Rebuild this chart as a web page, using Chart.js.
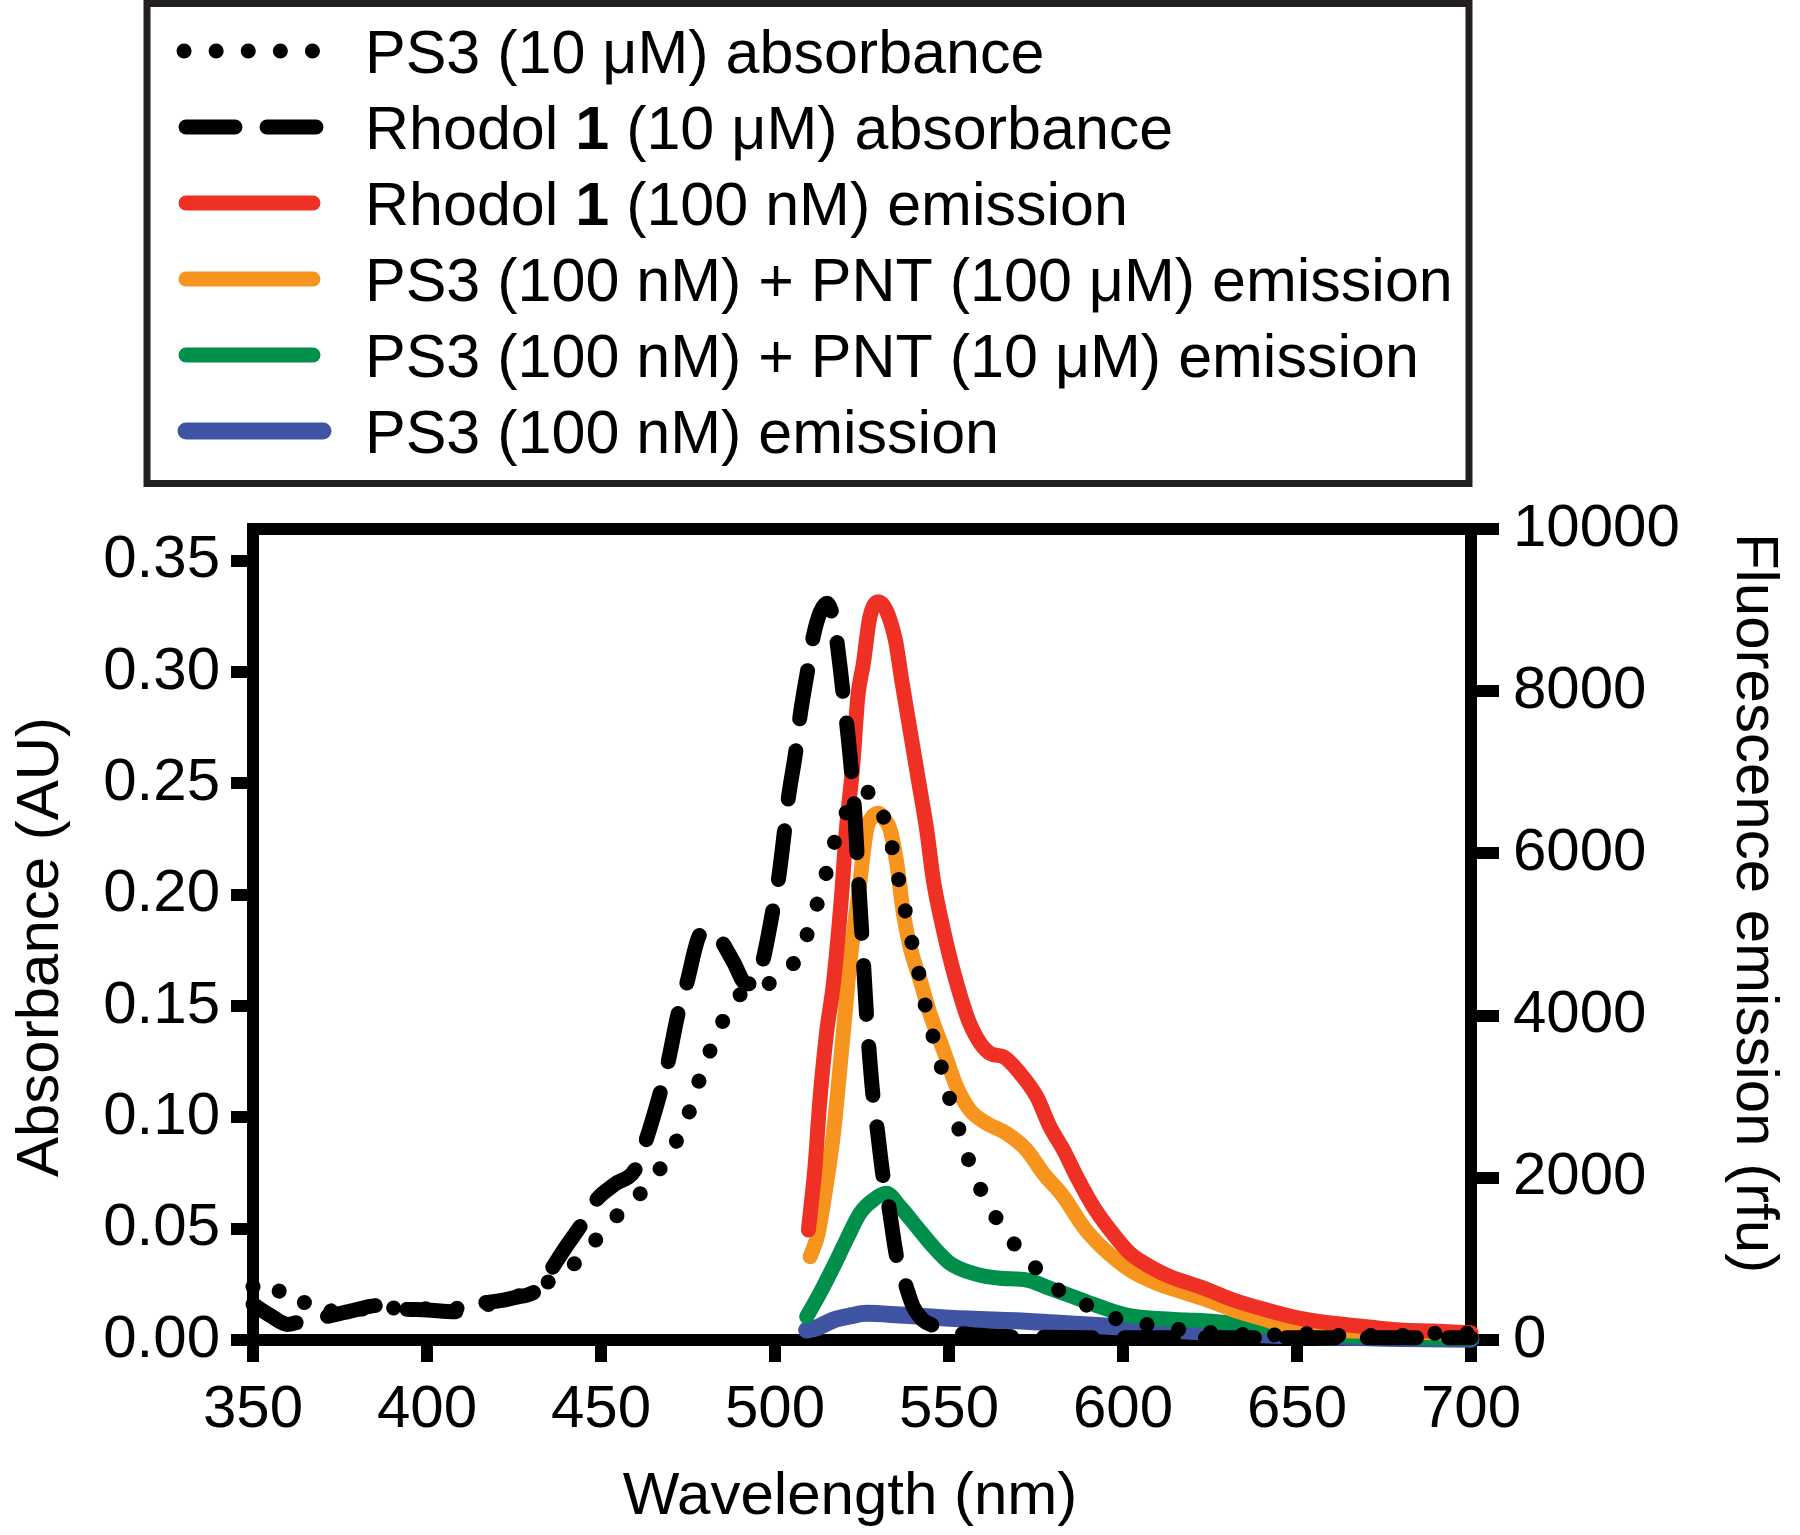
<!DOCTYPE html>
<html><head><meta charset="utf-8">
<script src="https://cdn.jsdelivr.net/npm/chart.js@4.4.1/dist/chart.umd.min.js"></script>
<style>html,body{margin:0;padding:0;background:#fff;}canvas{display:block;}</style>
</head><body>
<canvas id="c" width="1800" height="1535"></canvas>
<script>
// ---------- data ----------
const seriesLabels = [
  'PS3 (10 μM) absorbance',
  'Rhodol 1 (10 μM) absorbance',
  'Rhodol 1 (100 nM) emission',
  'PS3 (100 nM) + PNT (100 μM) emission',
  'PS3 (100 nM) + PNT (10 μM) emission',
  'PS3 (100 nM) emission'
];
const wlTicks = [350, 400, 450, 500, 550, 600, 650, 700];
const absTicks = [0, 0.05, 0.10, 0.15, 0.20, 0.25, 0.30, 0.35];
const fluorTicks = [0, 2000, 4000, 6000, 8000, 10000];

// PS3 (10 uM) absorbance (left axis)
const ps3AbsWl = [350,354,358.7,363,367.8,374,380,386,393,400,406,412,418,425,432,439.2,445.9,451.6,458.3,465,469.5,474.1,477,479.9,483.5,487.7,494,498,502.7,507.7,510.9,513.7,516.3,518.7,522,525,528,531.6,534,535.9,537.8,539.7,541.7,543.6,546,548.4,550.8,553.6,556.5,560.3,565.1,570.4,577.1,583.9,592.4,600.6,609.2,619,630,640,650,660,670,680,690,700];
const ps3AbsVal = [0.024,0.019,0.0225,0.016,0.0187,0.012,0.014,0.013,0.015,0.014,0.013,0.016,0.016,0.019,0.024,0.030,0.040,0.051,0.0614,0.072,0.084,0.0966,0.111,0.124,0.138,0.151,0.159,0.160,0.164,0.176,0.190,0.204,0.219,0.232,0.240,0.246,0.246,0.233,0.219,0.204,0.190,0.176,0.162,0.147,0.133,0.119,0.105,0.091,0.077,0.064,0.051,0.040,0.029,0.0195,0.014,0.008,0.0067,0.004,0.003,0.002,0.003,0.002,0.002,0.002,0.003,0.003];

// Rhodol 1 (10 uM) absorbance (left axis)
const rhoAbsWl = [350,355,360,365,371,378,386,392,400,408,412,418,425,432,435,440,444,448.7,454,460,463,467,469.3,472.2,474.6,478.4,481,484.2,488,491.8,494,496.6,499.5,501,502.9,503.8,506.2,507,509.5,511,513,515,517,518.5,519.6,520.6,522,523,523.8,525,526.3,528.2,529.2,531.1,532.6,535,537.4,539.7,542.5,545.5,550,560,600,650,700];
const rhoAbsVal = [0.016,0.011,0.007,0.009,0.0105,0.013,0.0155,0.014,0.0135,0.0127,0.016,0.017,0.019,0.023,0.030,0.042,0.051,0.063,0.070,0.077,0.090,0.111,0.125,0.147,0.160,0.182,0.184,0.180,0.170,0.160,0.160,0.171,0.194,0.207,0.231,0.243,0.267,0.278,0.302,0.316,0.327,0.331,0.322,0.305,0.290,0.277,0.255,0.235,0.212,0.181,0.146,0.109,0.097,0.073,0.061,0.037,0.0255,0.015,0.009,0.0065,0.004,0.002,0.001,0.001,0.001];

// Rhodol 1 (100 nM) emission (right axis)
const rhoEmWl = [509.6,511.5,512.9,514.8,516.8,519.1,520.5,522.4,523.8,525.4,527.2,529.7,534.5,536.4,538.8,541.2,543.6,545.5,548.4,551.7,556,561.8,565.6,570.4,575.2,579,582.9,586.7,591.5,596.3,602,607.8,613.5,622.1,631.7,641.3,650.9,660.4,670,679.6,689.2,700];
const rhoEmVal = [1356,2137,2959,3782,4400,5466,6289,7111,7932,8344,8900,9104,8650,8138,7522,6905,6289,5672,5055,4480,3900,3535,3493,3288,3000,2630,2343,2014,1644,1356,1069,904,781,657,493,370,267,206,164,123,110,90];

// PS3 (100 nM) + PNT (100 uM) emission
const pntHiEmWl = [510.1,512.4,514.8,516.8,518.7,520.3,521.5,523.9,526.3,528,529.7,531.5,533.1,535,536.9,538.8,541.7,544.5,548.4,552.2,556,560.8,566.5,572.3,577.1,582.9,588.6,594.3,602,609.7,618.3,626.9,631.7,641.3,647,660,680,700];
const pntHiEmVal = [1027,1316,1932,2549,3370,4100,4645,5466,6289,6450,6494,6420,6289,5878,5261,4850,4439,4028,3576,3123,2836,2672,2549,2343,2055,1767,1397,1130,863,699,576,452,370,247,164,120,100,80];

// PS3 (100 nM) + PNT (10 uM) emission
const pntLoEmWl = [509.1,512.9,516.8,520.5,524.4,528.2,532,535.9,540.7,545.5,550.3,557,564.7,572.3,579,585.7,593.4,601,608.7,618.3,626.9,633,641.3,650,660,680,700];
const pntLoEmVal = [287,576,904,1233,1562,1726,1809,1644,1397,1150,946,822,761,740,637,534,411,308,267,247,226,200,164,110,60,30,20];

// PS3 (100 nM) emission
const ps3EmWl = [509.1,512,516.8,522,526.3,535.9,550.3,574.2,598.1,622.1,650,680,700];
const ps3EmVal = [123,150,247,300,329,308,267,226,164,102,50,20,10];

// ---------- chart ----------
const FONT = '"Liberation Sans", Arial, Helvetica, sans-serif';
const pts = (xs, ys) => xs.map((x, i) => ({ x: x, y: ys[i] }));

function mkSet(label, xs, ys, axis, color, width, dash) {
  return {
    label: label, data: pts(xs, ys), yAxisID: axis,
    borderColor: color, backgroundColor: color, borderWidth: width,
    borderDash: dash || [], borderCapStyle: 'round', borderJoinStyle: 'round',
    pointRadius: 0, fill: false, cubicInterpolationMode: 'monotone', clip: false
  };
}

const datasets = [
  mkSet(seriesLabels[0], ps3AbsWl, ps3AbsVal, 'y', '#000000', 15, [0.1, 32]),
  mkSet(seriesLabels[1], rhoAbsWl, rhoAbsVal, 'y', '#000000', 15, [49, 32]),
  mkSet(seriesLabels[2], rhoEmWl, rhoEmVal, 'y2', '#EE3124', 15),
  mkSet(seriesLabels[3], pntHiEmWl, pntHiEmVal, 'y2', '#F7941D', 15),
  mkSet(seriesLabels[4], pntLoEmWl, pntLoEmVal, 'y2', '#00904C', 15),
  mkSet(seriesLabels[5], ps3EmWl, ps3EmVal, 'y2', '#3F54A3', 17)
];

const tickFont = { family: FONT, size: 60 };
const gridOpts = (len) => ({ display: true, drawOnChartArea: false, drawTicks: true, tickLength: len, tickWidth: 12, tickColor: '#000', color: '#000', lineWidth: 12 });

const framePlugin = {
  id: 'frame',
  beforeDatasetsDraw(chart) {
    const { ctx, chartArea: a } = chart;
    ctx.save();
    ctx.strokeStyle = '#000';
    ctx.lineWidth = 12;
    ctx.strokeRect(a.left, a.top, a.right - a.left, a.bottom - a.top);
    ctx.restore();
  }
};

const titlePlugin = {
  id: 'titles',
  afterDraw(chart) {
    const ctx = chart.ctx;
    ctx.save();
    ctx.fillStyle = '#000';
    ctx.font = '60px ' + FONT;
    ctx.textBaseline = 'alphabetic';
    ctx.textAlign = 'center';
    ctx.fillText(chart.options.scales.x.title.text, 850, 1514);
    ctx.save();
    ctx.translate(58, 947);
    ctx.rotate(-Math.PI / 2);
    ctx.fillText(chart.options.scales.y.title.text, 0, 0);
    ctx.restore();
    ctx.save();
    ctx.translate(1737, 903);
    ctx.rotate(Math.PI / 2);
    ctx.fillText(chart.options.scales.y2.title.text, 0, 0);
    ctx.restore();
    ctx.restore();
  }
};

const legendPlugin = {
  id: 'customLegend',
  afterDraw(chart) {
    const ctx = chart.ctx;
    ctx.save();
    ctx.strokeStyle = '#231f20';
    ctx.lineWidth = 7;
    ctx.strokeRect(147, 3.5, 1322, 480);
    const rowY = 51, rowStep = 76;
    chart.data.datasets.forEach((ds, i) => {
      const cy = rowY + i * rowStep;
      ctx.save();
      ctx.strokeStyle = ds.borderColor;
      ctx.lineWidth = ds.borderWidth;
      ctx.lineCap = 'round';
      ctx.setLineDash(ds.borderDash || []);
      ctx.beginPath();
      let x0 = 186, x1 = 313;
      if (i === 0) { x0 = 184; x1 = 313; }
      if (i === 1) { x0 = 186; x1 = 317; }
      if (i === 5) { x1 = 323; }
      ctx.moveTo(x0, cy); ctx.lineTo(x1, cy);
      ctx.stroke();
      ctx.restore();
      const label = ds.label;
      const m = label.match(/^(Rhodol )(1)( .*)$/);
      const parts = m ? [[m[1], false], [m[2], true], [m[3], false]] : [[label, false]];
      let x = 365;
      const by = cy + 22;
      ctx.fillStyle = '#000';
      ctx.textAlign = 'left';
      ctx.textBaseline = 'alphabetic';
      parts.forEach(([t, bold]) => {
        ctx.font = (bold ? 'bold ' : '') + '61px ' + FONT;
        ctx.fillText(t, x, by);
        x += ctx.measureText(t).width;
      });
    });
    ctx.restore();
  }
};

new Chart(document.getElementById('c'), {
  type: 'line',
  data: { datasets: datasets },
  options: {
    responsive: false,
    animation: false,
    devicePixelRatio: 1,
    layout: { padding: { top: 529, left: 0, right: 0, bottom: 0 } },
    plugins: { legend: { display: false }, tooltip: { enabled: false }, title: { display: false } },
    scales: {
      x: {
        type: 'linear', position: 'bottom', min: 350, max: 700,
        afterFit(s) { s.height = 195; },
        afterBuildTicks(s) { s.ticks = wlTicks.map(v => ({ value: v })); },
        ticks: { font: tickFont, color: '#000', padding: 12, maxRotation: 0, autoSkip: false, callback: v => String(v) },
        grid: gridOpts(22),
        border: { display: false },
        title: { display: false, text: 'Wavelength (nm)' }
      },
      y: {
        type: 'linear', position: 'left', min: 0, max: 0.3643,
        afterFit(s) { s.width = 253; },
        afterBuildTicks(s) { s.ticks = absTicks.map(v => ({ value: v })); },
        ticks: { font: tickFont, color: '#000', padding: 11, autoSkip: false, callback: v => Number(v).toFixed(2) },
        grid: gridOpts(22),
        border: { display: false },
        title: { display: false, text: 'Absorbance (AU)' }
      },
      y2: {
        type: 'linear', position: 'right', min: 0, max: 10000,
        afterFit(s) { s.width = 329; },
        afterBuildTicks(s) { s.ticks = fluorTicks.map(v => ({ value: v })); },
        ticks: { font: tickFont, color: '#000', padding: 14, autoSkip: false, callback: v => String(v) },
        grid: gridOpts(28),
        border: { display: false },
        title: { display: false, text: 'Fluorescence emission (rfu)' }
      }
    }
  },
  plugins: [framePlugin, titlePlugin, legendPlugin]
});
</script>
</body></html>
